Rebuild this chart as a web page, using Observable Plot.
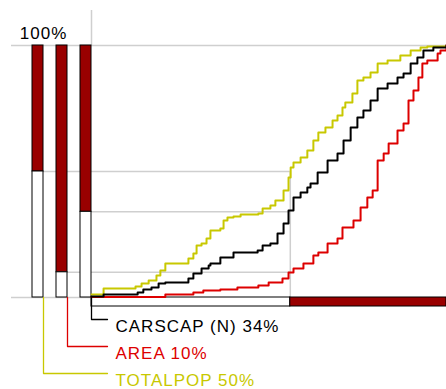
<!DOCTYPE html>
<html>
<head>
<meta charset="utf-8">
<script src="https://cdn.jsdelivr.net/npm/d3@7"></script>
<script src="https://cdn.jsdelivr.net/npm/@observablehq/plot@0.6"></script>
<style>
  html, body { margin: 0; padding: 0; background: #fff; }
  #chart svg { display: block; }
  #chart text { letter-spacing: 1px; }
</style>
</head>
<body>
<div id="chart"></div>
<script>
// Variables, left-to-right order of the share bars
const names = ["TOTALPOP", "AREA", "CARSCAP (N)"];
// Share of each variable held by the first splitShare % of units
const shares = [50, 10, 34];
const colors = ["#c8c800", "#dd0000", "#000000"];
// Share of units on the left of the split
const splitShare = 56;

// Cumulative share curves: x = % of units, y = % of the variable
const totalpopX = [0, 3.4, 12.4, 14.1, 16.1, 18.3, 19.4, 20.8, 27.3, 28.7, 29.6, 31.0, 32.4, 33.5, 36.3, 37.2, 38.3, 40.0, 42.0, 47.0, 48.2, 50.4, 51.8, 54.1, 55.5, 56.1, 56.9, 58.9, 60.8, 62.5, 63.9, 65.9, 67.9, 69.3, 70.7, 71.5, 73.5, 74.9, 76.6, 78.6, 80.6, 83.4, 87.0, 89.9, 92.7, 94.6, 100];
const totalpopY = [1.2, 3.6, 4.4, 5.6, 6.7, 8.7, 10.7, 13.5, 15.5, 17.5, 20.6, 21.4, 23.4, 26.6, 27.4, 30.6, 31.7, 32.1, 32.9, 33.3, 35.3, 36.5, 38.5, 42.5, 47.6, 51.6, 53.6, 55.6, 58.3, 62.3, 65.5, 67.5, 70.2, 72.2, 75.4, 77.4, 81.0, 86.1, 87.3, 89.3, 92.9, 94.0, 96.0, 98.0, 99.2, 99.6, 100];

const areaX = [0, 20.8, 28.7, 31.5, 36.3, 41.1, 47.0, 49.9, 53.8, 55.5, 56.9, 59.7, 62.5, 63.9, 66.5, 69.3, 70.7, 73.8, 75.8, 77.7, 79.2, 80.6, 82.3, 83.7, 86.2, 87.9, 89.3, 90.7, 92.1, 93.2, 94.6, 97.5, 98.3, 100];
const areaY = [0.2, 1.2, 2.0, 2.8, 3.2, 4.0, 4.8, 6.0, 7.5, 9.9, 11.5, 13.5, 16.7, 17.9, 21.4, 23.4, 27.8, 30.6, 35.7, 39.7, 42.5, 54.4, 57.1, 61.1, 66.3, 69.0, 78.2, 82.1, 87.3, 92.9, 94.0, 96.8, 98.0, 100];

const carscapX = [0, 3.4, 13.0, 14.6, 16.9, 18.9, 20.8, 27.3, 28.7, 31.0, 33.0, 33.5, 36.3, 40.0, 46.8, 48.2, 50.4, 52.4, 54.1, 55.5, 56.9, 58.9, 60.8, 61.7, 63.7, 66.5, 69.3, 71.0, 73.0, 74.9, 76.6, 78.6, 80.6, 83.4, 86.2, 87.9, 89.9, 91.8, 93.5, 96.3, 100];
const carscapY = [0.4, 1.2, 2.0, 3.2, 4.0, 5.6, 6.0, 7.5, 9.5, 11.5, 12.7, 13.5, 15.9, 17.9, 18.7, 20.6, 21.4, 25.4, 29.4, 34.5, 39.7, 41.7, 43.7, 45.2, 49.6, 54.4, 57.1, 62.3, 67.5, 71.4, 74.2, 78.2, 82.9, 84.9, 87.3, 88.9, 92.9, 95.2, 98.0, 99.2, 100];

const curveXs = [totalpopX, areaX, carscapX];
const curveYs = [totalpopY, areaY, carscapY];

// Frame geometry (pixels)
const W = 446, H = 389;
const mLeft = 91, mTop = 45, mBottom = 92, mRight = 0;
const ux = (W - mLeft - mRight) / 100;   // px per x unit
const uy = (H - mTop - mBottom) / 100;   // px per y unit
const px = v => v / ux, py = v => v / uy; // pixel offsets -> data units

// Layout of the share bars, leader lines and labels (pixel offsets from the frame)
const barW = 11, barStep = 24, barsEnd = 0;
const labelRow0 = 22, labelStep = 27, leaderEnd = 16, labelGap = 24;
const stripH = 9;

const bars = names.map((name, i) => {
  const right = px(barsEnd - barStep * (names.length - 1 - i));
  return {
    name, share: shares[i], color: colors[i],
    left: right - px(barW), right,
    row: -py(labelRow0 + labelStep * (names.length - 1 - i))
  };
});

const curves = names.flatMap((name, i) =>
  curveXs[i].map((x, j) => ({name, x, y: curveYs[i][j]}))
);

const leaders = bars.flatMap(b => [
  {name: b.name, x: b.right, y: 0},
  {name: b.name, x: b.right, y: b.row},
  {name: b.name, x: px(leaderEnd), y: b.row}
]);

const grid = "#cfcfcf";
const barRed = "#990000";

const chart = Plot.plot({
  width: W,
  height: H,
  marginLeft: mLeft,
  marginRight: mRight,
  marginTop: mTop,
  marginBottom: mBottom,
  style: {fontFamily: "'Liberation Sans', Arial, sans-serif", background: "#fff"},
  x: {domain: [0, 100], axis: null},
  y: {domain: [0, 100], axis: null},
  marks: [
    // reference lines
    Plot.ruleY([100], {x1: -px(80), x2: 100, stroke: grid, strokeWidth: 1.5}),
    Plot.ruleY([0], {x1: -px(80), x2: 0, stroke: grid, strokeWidth: 1.5}),
    Plot.ruleX([0], {y1: 100, y2: 100 + py(35), stroke: grid, strokeWidth: 1.5}),
    Plot.ruleY(bars, {y: "share", x1: "right", x2: splitShare, stroke: grid, strokeWidth: 1.5}),
    Plot.ruleX([splitShare], {y1: 0, y2: d3.max(shares), stroke: grid, strokeWidth: 1.5}),
    // share bars
    Plot.rect(bars, {x1: "left", x2: "right", y1: "share", y2: 100, fill: barRed, stroke: "#000", strokeWidth: 1}),
    Plot.rect(bars, {x1: "left", x2: "right", y1: 0, y2: "share", fill: "#fff", stroke: "#000", strokeWidth: 1}),
    // split strip of units
    Plot.rect([{a: 0, b: splitShare, c: "#fff"}, {a: splitShare, b: 100, c: barRed}],
      {x1: "a", x2: "b", y1: 0, y2: -py(stripH), fill: "c", stroke: "#000", strokeWidth: 1}),
    // cumulative curves
    Plot.line(curves, {x: "x", y: "y", z: "name", stroke: "name", curve: "step-after", strokeWidth: 2}),
    // leader lines and labels
    Plot.line(leaders, {x: "x", y: "y", z: "name", stroke: "name", strokeWidth: 1.3}),
    Plot.text(bars, {x: px(labelGap), y: "row", text: d => `${d.name} ${d.share}%`, fill: "name",
      textAnchor: "start", lineAnchor: "top", fontSize: 17}),
    Plot.text(["100%"], {x: bars[0].right, y: 100, text: d => d, textAnchor: "middle", lineAnchor: "bottom",
      dy: -7, fontSize: 17, fill: "#000"})
  ],
  color: {domain: names, range: colors}
});

document.getElementById("chart").appendChild(chart);
</script>
</body>
</html>
